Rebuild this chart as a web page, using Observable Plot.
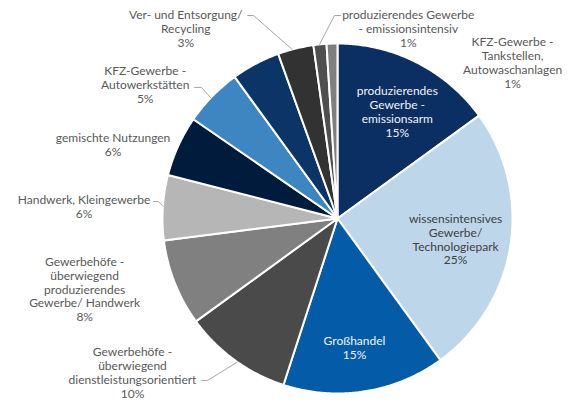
<!DOCTYPE html>
<html>
<head>
<meta charset="utf-8">
<script src="https://cdn.jsdelivr.net/npm/d3@7"></script>
<script src="https://cdn.jsdelivr.net/npm/@observablehq/plot@0.6"></script>
<style>
  html, body { margin: 0; padding: 0; background: #fff; }
  #chart { width: 568px; height: 401px; }
</style>
</head>
<body>
<div id="chart"></div>
<script>
// ---- data ----
const categories = [
  "produzierendes Gewerbe - emissionsarm",
  "wissensintensives Gewerbe/ Technologiepark",
  "Großhandel",
  "Gewerbehöfe - überwiegend dienstleistungsorientiert",
  "Gewerbehöfe - überwiegend produzierendes Gewerbe/ Handwerk",
  "Handwerk, Kleingewerbe",
  "gemischte Nutzungen",
  "KFZ-Gewerbe - Autowerkstätten",
  "(ohne Beschriftung)",
  "Ver- und Entsorgung/ Recycling",
  "produzierendes Gewerbe - emissionsintensiv",
  "KFZ-Gewerbe - Tankstellen, Autowaschanlagen"
];
const values = [15.0, 25.0, 15.0, 10.0, 8.0, 6.0, 5.6, 5.4, 4.5, 3.3, 1.2, 1.0];
const valueLabels = ["15%", "25%", "15%", "10%", "8%", "6%", "6%", "5%", null, "3%", "1%", "1%"];
const labelLines = [
  "produzierendes\nGewerbe -\nemissionsarm",
  "wissensintensives\nGewerbe/\nTechnologiepark",
  "Großhandel",
  "Gewerbehöfe -\nüberwiegend\ndienstleistungsorientiert",
  "Gewerbehöfe -\nüberwiegend\nproduzierendes\nGewerbe/ Handwerk",
  "Handwerk, Kleingewerbe",
  "gemischte Nutzungen",
  "KFZ-Gewerbe -\nAutowerkstätten",
  null,
  "Ver- und Entsorgung/\nRecycling",
  "produzierendes Gewerbe\n- emissionsintensiv",
  "KFZ-Gewerbe -\nTankstellen,\nAutowaschanlagen"
];

// ---- styles / layout (not data) ----
const colors = ["#0b2f62", "#bed6ea", "#045ca8", "#4a4a4a", "#808080", "#b6b6b6",
                "#001b3c", "#3e86c1", "#0b3566", "#323232", "#4f4f4f", "#7f7f7f"];
const textColors = ["#f2f2f2", "#404040", "#f2f2f2", "#595959", "#595959", "#595959",
                    "#595959", "#595959", "#595959", "#595959", "#595959", "#595959"];
// label placement: polar angle (deg, clockwise from top) and radius (fraction of pie radius)
const labelPolar = [[29.2, 0.70], [99.9, 0.685], [172.5, 0.745], [233.1, 1.465], [254.4, 1.50],
                    [272.6, 1.45], [288.2, 1.35], [304.9, 1.34], null, [321.4, 1.39], [20.4, 1.16], [48.3, 1.34]];
// leader lines: text-side start (two points, pie-radius units) and end angle on the rim
const leaders = [
  {i: 9, pts: [[-0.514, 1.16], [-0.48, 1.16]], end: 345},
  {i: 10, pts: [[0.017, 1.16], [-0.017, 1.16]], end: 354.1},
  {i: 7, pts: [[-0.817, 0.749], [-0.777, 0.749]], end: 313.6},
  {i: 5, pts: [[-1.051, 0.097], [-1.023, 0.097]], end: 274},
  {i: 3, pts: [[-0.777, -0.926], [-0.743, -0.926]], end: 214.9}
];

const rad = (deg) => deg * Math.PI / 180;
const pie = d3.pie().sort(null).startAngle(0).endAngle(2 * Math.PI);
const arcs = pie(values);

// slice outlines (pie radius = 1)
const slicePts = [];
arcs.forEach((a, i) => {
  const cat = categories[i];
  slicePts.push({cat, x: 0, y: 0});
  const n = Math.max(2, Math.ceil((a.endAngle - a.startAngle) / rad(0.5)));
  for (let k = 0; k <= n; k++) {
    const t = a.startAngle + (a.endAngle - a.startAngle) * k / n;
    slicePts.push({cat, x: Math.sin(t), y: Math.cos(t)});
  }
  slicePts.push({cat, x: 0, y: 0});
});

const labels = categories.map((c, i) => {
  if (!labelLines[i]) return null;
  const [ang, r] = labelPolar[i];
  return {
    cat: c,
    text: labelLines[i] + "\n" + valueLabels[i],
    x: r * Math.sin(rad(ang)),
    y: r * Math.cos(rad(ang)),
    color: textColors[i]
  };
}).filter(d => d);

const leaderPts = [];
leaders.forEach(l => {
  l.pts.forEach(p => leaderPts.push({id: l.i, x: p[0], y: p[1]}));
  leaderPts.push({id: l.i, x: Math.sin(rad(l.end)), y: Math.cos(rad(l.end))});
});

const chart = Plot.plot({
  width: 568,
  height: 401,
  marginLeft: 162,
  marginRight: 56,
  marginTop: 43,
  marginBottom: 8,
  x: {domain: [-1, 1], axis: null},
  y: {domain: [-1, 1], axis: null},
  color: {type: "ordinal", domain: categories, range: colors},
  style: {fontFamily: "Lato, 'Open Sans', sans-serif", background: "#fff", overflow: "visible"},
  marks: [
    Plot.line(slicePts, {x: "x", y: "y", z: "cat", fill: "cat", stroke: "#fff", strokeWidth: 2, strokeLinejoin: "round"}),
    Plot.line(leaderPts, {x: "x", y: "y", z: "id", stroke: "#a6a6a6", strokeWidth: 1}),
    Plot.text(labels, {x: "x", y: "y", text: "text", fill: "color", fontSize: 12, lineHeight: 1.16, lineAnchor: "middle", textAnchor: "middle"})
  ]
});
document.getElementById("chart").appendChild(chart);
</script>
</body>
</html>
